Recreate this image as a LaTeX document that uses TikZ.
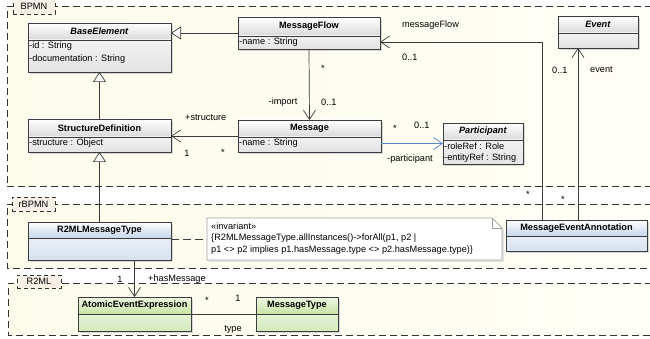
\documentclass[tikz,border=0pt]{standalone}
\usepackage{fontspec}
\setmainfont{Liberation Sans}
\usetikzlibrary{arrows.meta,fit,calc}

\definecolor{linec}{HTML}{3C3C3C}
\definecolor{pkgline}{HTML}{333333}
\definecolor{pkgleft}{HTML}{FDFBEA}
\definecolor{pkgright}{HTML}{FFFEF7}
\definecolor{tabfill}{HTML}{F8EFE6}
\definecolor{assocblue}{HTML}{5B8BC7}
% class palettes: header top/bottom, body top/bottom
\definecolor{graytop}{HTML}{FFFFFF}
\definecolor{graymid}{HTML}{D9D9D9}
\definecolor{graylow}{HTML}{F2F2F2}
\definecolor{graybot}{HTML}{E3E3E3}
\definecolor{bluetop}{HTML}{FFFFFF}
\definecolor{bluemid}{HTML}{C6D6EB}
\definecolor{bluelow}{HTML}{E8EEF7}
\definecolor{bluebot}{HTML}{D6E1EF}
\definecolor{greentop}{HTML}{EFF8E3}
\definecolor{greenmid}{HTML}{C8E3A6}
\definecolor{greenlow}{HTML}{E6F3D8}
\definecolor{greenbot}{HTML}{D3EABB}

\tikzset{
  attr/.style={anchor=west, inner sep=0pt},
  lbl/.style={inner sep=0pt},
  pkgtab/.style={draw=pkgline, line width=0.9pt, dash pattern=on 4pt off 3pt,
                 fill=tabfill, inner sep=0pt, outer sep=0pt},
  pkgframe/.style={draw=pkgline, line width=1pt, dash pattern=on 7pt off 4pt},
  assoc/.style={draw=linec, line width=0.7pt, -{Straight Barb[length=9pt,width=12pt]}},
  plainassoc/.style={draw=linec, line width=0.7pt},
  gen/.style={draw=linec, line width=0.7pt, -{Triangle[length=10pt,width=13pt,fill=white]}},
  notelink/.style={draw=linec, line width=0.8pt, dash pattern=on 8pt off 4pt},
}

% #1 name, #2 left, #3 top, #4 right, #5 header/body split, #6 bottom, #7 title, #8 palette
\newcommand{\umlclass}[8]{%
  \fill[black!16] (#2+2,#3+2) rectangle (#4+2,#6+2);
  \shade[top color=#8top, bottom color=#8mid] (#2,#3) rectangle (#4,#5);
  \shade[top color=#8low, bottom color=#8bot] (#2,#5) rectangle (#4,#6);
  \draw[linec, line width=0.8pt] (#2,#5) -- (#4,#5);
  \node[fit={(#2,#3) (#4,#6)}, inner sep=0pt, outer sep=0pt, draw=linec, line width=0.8pt] (#1) {};
  \node[lbl] at ($(#2,#3)!0.5!(#4,#5)$) {#7};
}

% #1 name, #2 left, #3 top, #4 bottom, #5-#8 tab box, #9 label
\newcommand{\umlpackage}[9]{%
  \shade[left color=pkgleft, right color=pkgright] (#2,#3) rectangle (652,#4);
  \draw[pkgframe] (652,#3) -- (#2,#3) -- (#2,#4) -- (652,#4);
  \node[pkgtab, fit={(#5,#6) (#7,#8)}] (#1) {};
  \node[lbl] at (#1.center) {#9};
}

\begin{document}
\begin{tikzpicture}[x=1pt, y=-1pt, font=\fontsize{9.2}{11}\selectfont]
\useasboundingbox (0,0) rectangle (650,339);
\fill[white] (0,0) rectangle (650,339);

% packages
\umlpackage{bpmn}{7}{7}{187}{13}{-2}{55}{14}{BPMN}
\umlpackage{rbpmn}{7}{204}{268}{12}{197}{55}{211}{rBPMN}
\umlpackage{rtwoml}{8}{283}{335}{17}{275}{61}{288}{R2ML}

% BPMN classes
\umlclass{be}{28}{23}{171}{40}{72}{\textbf{\textit{BaseElement}}}{gray}
\node[attr] at (29,46) {-id : String};
\node[attr] at (29,59) {-documentation : String};

\umlclass{mf}{238}{17}{380}{36}{49}{\textbf{MessageFlow}}{gray}
\node[attr] at (239,42.5) {-name : String};

\umlclass{ev}{558}{16}{638}{33}{48}{\textbf{\textit{Event}}}{gray}

\umlclass{sd}{28}{119}{171}{137}{152}{\textbf{StructureDefinition}}{gray}
\node[attr] at (29,143.5) {-structure : Object};

\umlclass{msg}{238}{120}{381}{137}{152}{\textbf{Message}}{gray}
\node[attr] at (239,143.5) {-name : String};

\umlclass{pt}{443}{123}{523}{140}{164}{\textbf{\textit{Participant}}}{gray}
\node[attr] at (444,146) {-roleRef : Role};
\node[attr] at (444,158) {-entityRef : String};

% rBPMN classes and constraint note
\umlclass{rmt}{28}{222}{171}{238}{260}{\textbf{R2MLMessageType}}{blue}
\umlclass{mea}{506}{220}{647}{236}{251}{\textbf{MessageEventAnnotation}}{blue}

\node[fit={(207,218) (502,260)}, inner sep=0pt, outer sep=0pt] (note) {};
\fill[black!10] ($(note.north west)+(2,2)$) -- ($(note.north east)+(-8,2)$)
  -- ($(note.north east)+(2,12)$) -- ($(note.south east)+(2,2)$)
  -- ($(note.south west)+(2,2)$) -- cycle;
\draw[gray!75, fill=white, line width=0.7pt] (note.north west) -- ($(note.north east)+(-10,0)$)
  -- ($(note.north east)+(0,10)$) -- (note.south east) -- (note.south west) -- cycle;
\draw[gray!75, line width=0.7pt] ($(note.north east)+(-10,0)$) -- ($(note.north east)+(-10,10)$)
  -- ($(note.north east)+(0,10)$);
\node[attr] at (211,226) {«invariant»};
\node[attr] at (211,238) {\{R2MLMessageType.allInstances()->forAll(p1, p2 |};
\node[attr] at (211,250) {p1 <> p2 implies p1.hasMessage.type <> p2.hasMessage.type)\}};

% R2ML classes
\umlclass{aee}{78}{297}{191}{314}{331}{\textbf{AtomicEventExpression}}{green}
\umlclass{mt}{256}{297}{338}{314}{331}{\textbf{MessageType}}{green}

% generalizations
\draw[gen] (mf.west) -- (be.east |- mf.west);
\draw[gen] (sd.north) -- (be.south);
\draw[gen] (rmt.north) -- (sd.south);

% associations
\draw[assoc] (msg.west) -- (sd.east |- msg.west);
\draw[assoc] (mf.south) -- (msg.north);
\draw[assoc, draw=assocblue] (msg.east |- pt.west) -- (pt.west);
\coordinate (meaA) at ($(mea.north west)+(36,0)$);
\coordinate (meaB) at ($(mea.north west)+(72,0)$);
\coordinate (mfin) at ($(mf.south east)+(0,-7)$);
\draw[assoc] (meaA) |- (mfin);
\draw[assoc] (meaB) -- (meaB |- ev.south);
\draw[assoc] (aee.north |- rmt.south) -- (aee.north);
\draw[plainassoc] (aee.east) -- (mt.west);
\draw[notelink] (rmt.east |- note.west) -- (note.west);

% association end labels
\node[attr] at (402,25) {messageFlow};
\node[attr] at (402,57) {0..1};
\node[lbl] at (323,68) {*};
\node[lbl] at (283,102) {-import};
\node[attr] at (321,102) {0..1};
\node[attr] at (185,118) {+structure};
\node[lbl] at (187,153) {1};
\node[lbl] at (223,152) {*};
\node[lbl] at (395,128) {*};
\node[attr] at (414,125) {0..1};
\node[attr] at (387,159) {-participant};
\node[attr] at (552,70) {0..1};
\node[attr] at (590,70) {event};
\node[lbl] at (528,194) {*};
\node[lbl] at (563,199) {*};
\node[lbl] at (120,279) {1};
\node[attr] at (148,279) {+hasMessage};
\node[lbl] at (207,300) {*};
\node[lbl] at (238,298) {1};
\node[lbl] at (233,329) {type};
\end{tikzpicture}
\end{document}
